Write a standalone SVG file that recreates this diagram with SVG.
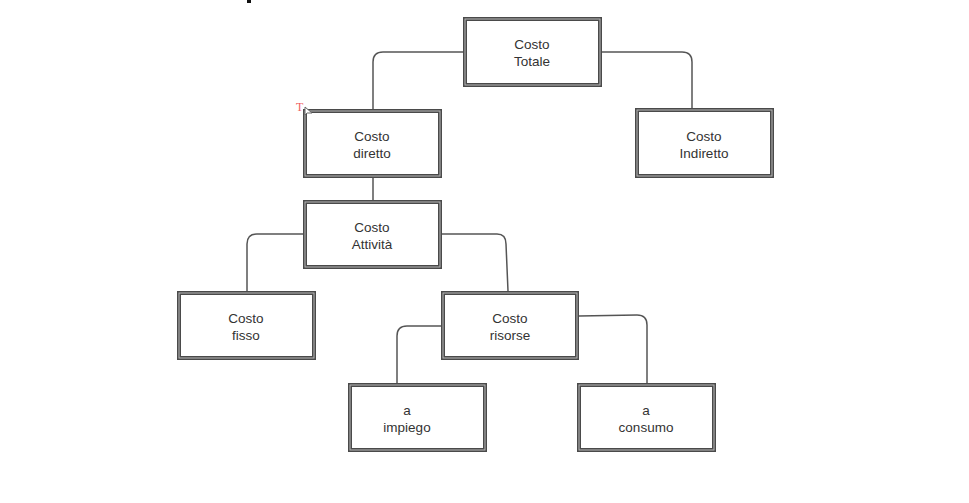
<svg xmlns="http://www.w3.org/2000/svg" width="969" height="503" viewBox="0 0 969 503">
<style>
.o{fill:#fff;stroke:#4a4a4a;stroke-width:4}
.m{fill:none;stroke:#b8b8b8;stroke-width:1}
.t{font-family:"Liberation Sans",Arial,sans-serif;font-size:13.5px;fill:#333;text-anchor:middle}
.c{fill:none;stroke:#555;stroke-width:1.5}
</style>
<rect width="969" height="503" fill="#fff"/>
<rect x="247" y="0" width="4" height="3" fill="#111"/>
<g id="connectors">
<path class="c" d="M464 52 H383 Q373 52 373 62 V109"/>
<path class="c" d="M601 52 H682 Q692 52 692 62 V108"/>
<path class="c" d="M373 177 V200"/>
<path class="c" d="M303 234 H257 Q247 234 247 244 V291"/>
<path class="c" d="M442 234 H497 Q506 234 506 244 L508 291"/>
<path class="c" d="M441 326 H407 Q397 326 397 336 V383"/>
<path class="c" d="M579 316 L637 315 Q647 315 647 325 V383"/>
</g>
<g id="n_totale"><rect class="o" x="465" y="19" width="135" height="66"/><rect class="m" x="465" y="19" width="135" height="66"/><text class="t" x="532" y="49">Costo</text><text class="t" x="532" y="66">Totale</text></g>
<g id="n_diretto"><rect class="o" x="305" y="111" width="135" height="65"/><rect class="m" x="305" y="111" width="135" height="65"/><text class="t" x="372" y="141">Costo</text><text class="t" x="372" y="158">diretto</text></g>
<g id="n_indiretto"><rect class="o" x="637" y="110" width="135" height="66"/><rect class="m" x="637" y="110" width="135" height="66"/><text class="t" x="704" y="141">Costo</text><text class="t" x="704" y="158">Indiretto</text></g>
<g id="n_attivita"><rect class="o" x="305" y="202" width="135" height="65"/><rect class="m" x="305" y="202" width="135" height="65"/><text class="t" x="372" y="232">Costo</text><text class="t" x="372" y="249">Attività</text></g>
<g id="n_fisso"><rect class="o" x="179" y="293" width="135" height="65"/><rect class="m" x="179" y="293" width="135" height="65"/><text class="t" x="246" y="323">Costo</text><text class="t" x="246" y="340">fisso</text></g>
<g id="n_risorse"><rect class="o" x="443" y="293" width="134" height="65"/><rect class="m" x="443" y="293" width="134" height="65"/><text class="t" x="510" y="323">Costo</text><text class="t" x="510" y="340">risorse</text></g>
<g id="n_impiego"><rect class="o" x="350" y="385" width="135" height="65"/><rect class="m" x="350" y="385" width="135" height="65"/><text class="t" x="407" y="415">a</text><text class="t" x="407" y="432">impiego</text></g>
<g id="n_consumo"><rect class="o" x="579" y="385" width="135" height="65"/><rect class="m" x="579" y="385" width="135" height="65"/><text class="t" x="646" y="415">a</text><text class="t" x="646" y="432">consumo</text></g>
<text x="296" y="111" style="font-family:'Liberation Serif',serif;font-size:12px;fill:#f06060">T</text>
<path d="M305 107 L305 115 L307 113 L312 113 Z" fill="#fff" stroke="#666" stroke-width="1"/>
</svg>
